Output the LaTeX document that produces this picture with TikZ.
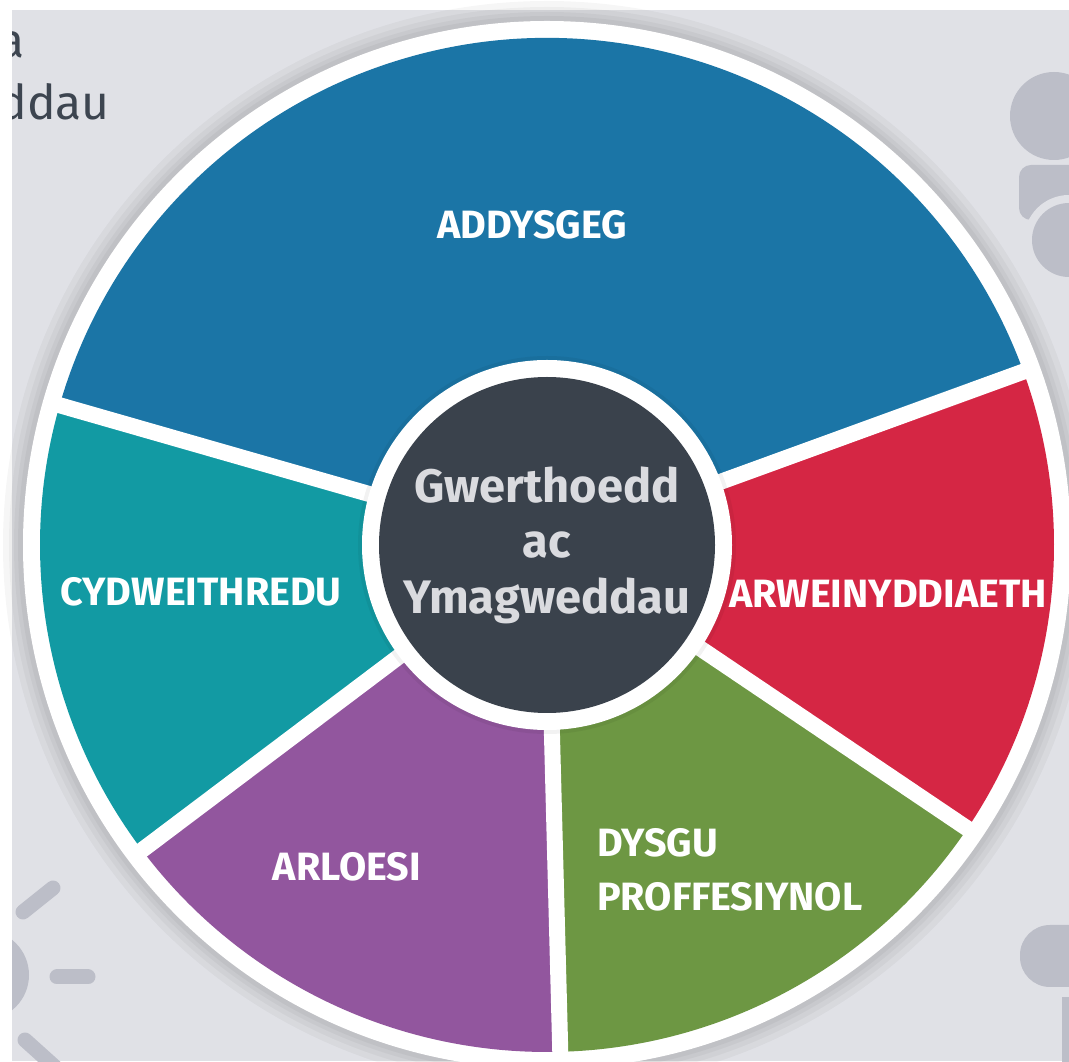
\documentclass[tikz,border=0pt]{standalone}
\usepackage{fontspec}
\setmainfont{Fira Sans}
\definecolor{bggray}{HTML}{E0E1E6}
\definecolor{icongray}{HTML}{BCBEC8}
\definecolor{inkgray}{HTML}{3D4550}
\definecolor{addblue}{HTML}{1B75A6}
\definecolor{cydteal}{HTML}{129AA3}
\definecolor{arlpurple}{HTML}{92569E}
\definecolor{dysgreen}{HTML}{6D9743}
\definecolor{arwred}{HTML}{D52644}
\definecolor{coredark}{HTML}{3A424C}
\definecolor{coretext}{HTML}{DADBDF}
\begin{document}
\begin{tikzpicture}[x=1pt, y=1pt,
    seclabel/.style={text=white, inner sep=0pt, font=\bfseries\fontsize{39.5}{54}\selectfont},
    ray/.style={icongray, line width=15pt, line cap=round}]
    \useasboundingbox (0,0) rectangle (1069,1061);
    \clip (0,0) rectangle (1069,1061);
    \fill[white] (0,0) rectangle (1069,1061);
    \fill[bggray] (12,0) rectangle (1069,1051);
    % cut-off text, top left
    \node[anchor=base east, inner sep=0pt, text=inkgray, font=\fontsize{48}{56}\selectfont] (tla) at (25,1003) {a};
    \node[anchor=base east, inner sep=0pt, text=inkgray, font=\fontsize{48}{56}\selectfont] (tlb) at (110,941) {ddau};
    % icons in the corners
    \fill[icongray] (1054,945) circle (44);
    \fill[icongray, rounded corners=12pt] (1019,841) rectangle (1100,896);
    \fill[bggray] (1069,821) circle (45);
    \fill[icongray] (1069,821) circle (37);
    \fill[icongray, rounded corners=30pt] (1020,74) rectangle (1130,136);
    \fill[icongray] (1062,-10) rectangle (1090,64);
    \fill[icongray] (-16,86) circle (45);
    \draw[ray] (23,149) -- (53,173);
    \draw[ray] (57,84) -- (88,84);
    \draw[ray] (25,21) -- (55,-6);
    \fill[white] (0,0) rectangle (12,1061);
    \fill[white] (0,1051) rectangle (1069,1061);
    % wheel
    \coordinate (C) at (547,516);
    \foreach \r in {544,538,533,529}
        \fill[black, opacity=0.035] (C) circle (\r);
    \fill[white] (C) circle (524);
    \foreach \a/\b/\c in {20/164/addblue, 164/217/cydteal, 217/271.5/arlpurple, 271.5/326/dysgreen, 326/380/arwred}
        \fill[\c] (C) -- ++(\a:507) arc[start angle=\a, end angle=\b, radius=507] -- cycle;
    \foreach \t in {20,164,217,271.5,326}
        \draw[white, line width=16pt] (C) -- ++(\t:515);
    \fill[black, opacity=0.05] (C) circle (189);
    \fill[white] (C) circle (185);
    \node[circle, fill=coredark, minimum size=336pt, inner sep=0pt, align=center,
          text=coretext, font=\bfseries\fontsize{47}{55.5}\selectfont] (core) at (C) {Gwerthoedd\\ac\\Ymagweddau};
    % labels
    \node[seclabel] (addysgeg) at (532,836) {ADDYSGEG};
    \node[seclabel] (cydweithredu) at (201,469) {CYDWEITHREDU};
    \node[seclabel] (arweinyddiaeth) at (888,467) {ARWEINYDDIAETH};
    \node[seclabel] (arloesi) at (347,194) {ARLOESI};
    \node[seclabel, anchor=west, align=left] (dysgu) at (597,191) {DYSGU\\PROFFESIYNOL};
\end{tikzpicture}
\end{document}
